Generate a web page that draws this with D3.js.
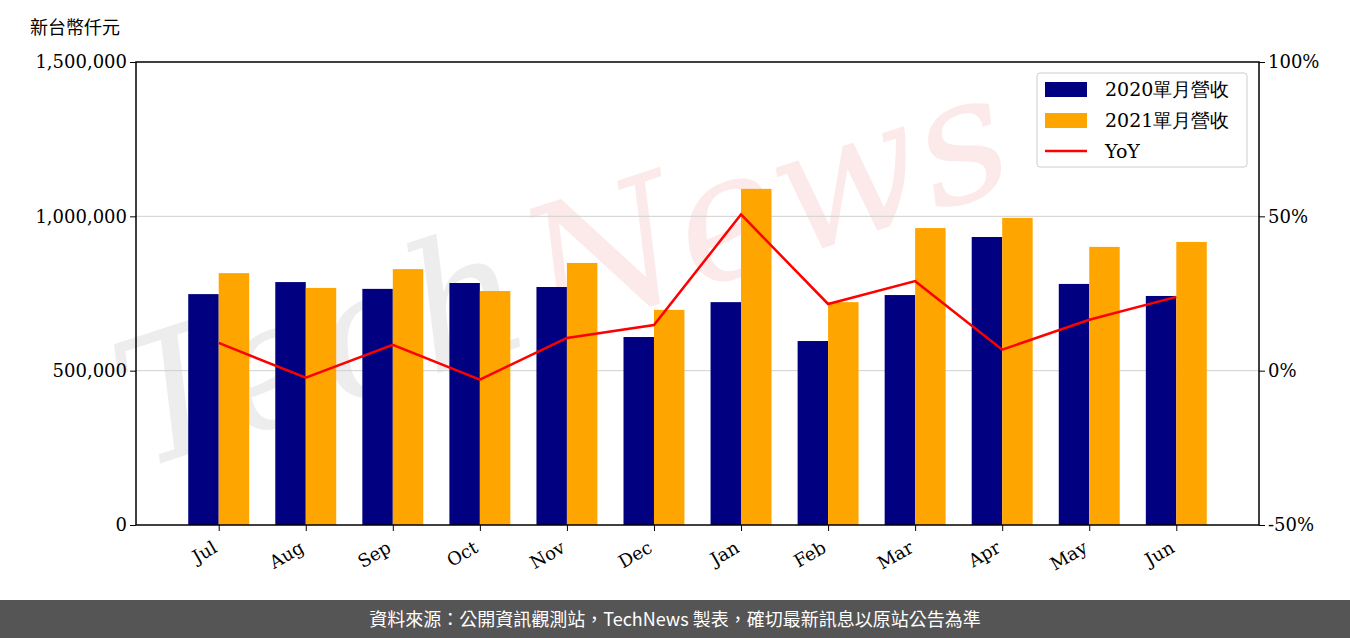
<!DOCTYPE html>
<html>
<head>
<meta charset="UTF-8">
<script src="https://d3js.org/d3.v7.min.js"></script>
<style>
  body { margin: 0; background: #fff; }
  text { font-family: "DejaVu Serif", serif; }
  .cjk { font-family: "Noto Sans CJK TC", sans-serif; }
</style>
</head>
<body>
<svg id="chart" width="1350" height="638"></svg>
<script>
const months = ["Jul","Aug","Sep","Oct","Nov","Dec","Jan","Feb","Mar","Apr","May","Jun"];
const rev2020 = [748000,787000,765000,784000,771000,609000,722000,596000,745000,933000,781000,742000];
const rev2021 = [816000,768000,829000,758000,849000,697000,1089000,722000,962000,995000,901000,917000];
const yoy = [9.0,-2.3,8.4,-2.9,10.6,14.8,50.6,21.6,29.0,6.8,16.5,23.9];
const leftTicks = [0,500000,1000000,1500000];
const rightTicks = [-50,0,50,100];

const svg = d3.select("#chart");
const plotL = 136, plotR = 1259, plotT = 62, plotB = 525;

const x = d3.scaleLinear().domain([-0.95, 11.95]).range([plotL, plotR]);
const y = d3.scaleLinear().domain([0, 1500000]).range([plotB, plotT]);
const y2 = d3.scaleLinear().domain([-50, 100]).range([plotB, plotT]);
const bw = 0.35;

// watermark
const wm = svg.append("g").attr("transform", "translate(140,470) rotate(-18)");
wm.append("text").attr("x", 0).attr("y", 0).attr("font-size", 175)
  .attr("font-family", "DejaVu Sans").attr("font-style", "italic")
  .attr("fill", "#e8e8e8").attr("fill-opacity", 0.8).text("Tech");
wm.append("text").attr("x", 430).attr("y", 0).attr("font-size", 175)
  .attr("font-family", "DejaVu Sans").attr("font-style", "italic")
  .attr("fill", "#fadada").attr("fill-opacity", 0.6).text("News");

// gridlines
svg.append("g").selectAll("line").data(leftTicks.slice(1, 3)).join("line")
  .attr("x1", plotL).attr("x2", plotR).attr("y1", d => y(d)).attr("y2", d => y(d))
  .attr("stroke", "#d0d0d0").attr("stroke-width", 1);

// bars
svg.append("g").selectAll("rect").data(rev2020).join("rect")
  .attr("x", (d, i) => x(i - bw)).attr("width", x(bw) - x(0))
  .attr("y", d => y(d)).attr("height", d => plotB - y(d)).attr("fill", "#000080");
svg.append("g").selectAll("rect").data(rev2021).join("rect")
  .attr("x", (d, i) => x(i)).attr("width", x(bw) - x(0))
  .attr("y", d => y(d)).attr("height", d => plotB - y(d)).attr("fill", "#ffa500");

// yoy line
svg.append("path").datum(yoy)
  .attr("d", d3.line().x((d, i) => x(i)).y(d => y2(d)))
  .attr("fill", "none").attr("stroke", "#ff0000").attr("stroke-width", 2.5);

// frame
svg.append("rect").attr("x", plotL).attr("y", plotT).attr("width", plotR - plotL).attr("height", plotB - plotT)
  .attr("fill", "none").attr("stroke", "#000").attr("stroke-width", 1.5);

// axes
const la = svg.append("g").attr("transform", `translate(${plotL},0)`)
  .call(d3.axisLeft(y).tickValues(leftTicks).tickFormat(d3.format(",")).tickSize(6));
const ra = svg.append("g").attr("transform", `translate(${plotR},0)`)
  .call(d3.axisRight(y2).tickValues(rightTicks).tickFormat(d => d + "%").tickSize(6));
const ba = svg.append("g").attr("transform", `translate(0,${plotB})`)
  .call(d3.axisBottom(x).tickValues(d3.range(12)).tickFormat(i => months[i]).tickSize(6));
[la, ra, ba].forEach(a => {
  a.select(".domain").remove();
  a.selectAll("text").attr("font-family", "DejaVu Serif").attr("font-size", 18).attr("fill", "#000");
});
ba.selectAll("text").attr("text-anchor", "end").attr("x", -14).attr("y", 6).attr("dy", "0.9em")
  .attr("transform", "rotate(-30)");

// y label
svg.append("text").attr("class", "cjk").attr("x", 30).attr("y", 34).attr("font-size", 18).text("新台幣仟元");

// legend
const lg = svg.append("g").attr("transform", "translate(1037,73)");
lg.append("rect").attr("width", 210).attr("height", 94).attr("rx", 3)
  .attr("fill", "#fff").attr("fill-opacity", 0.8).attr("stroke", "#ccc");
const items = [["2020單月營收", "#000080", "bar"], ["2021單月營收", "#ffa500", "bar"], ["YoY", "#ff0000", "line"]];
items.forEach((it, i) => {
  const cy = 16 + i * 31;
  if (it[2] === "bar") lg.append("rect").attr("x", 8).attr("y", cy - 7).attr("width", 42).attr("height", 15).attr("fill", it[1]);
  else lg.append("line").attr("x1", 8).attr("x2", 50).attr("y1", cy).attr("y2", cy).attr("stroke", it[1]).attr("stroke-width", 2.5);
  lg.append("text").attr("x", 68).attr("y", cy + 7).attr("font-size", 19)
    .attr("font-family", "DejaVu Serif, Noto Sans CJK TC").text(it[0]);
});

// footer
svg.append("rect").attr("x", 0).attr("y", 600).attr("width", 1350).attr("height", 38).attr("fill", "#555");
svg.append("text").attr("class", "cjk").attr("x", 675).attr("y", 626).attr("text-anchor", "middle")
  .attr("font-size", 18).attr("fill", "#fff")
  .text("資料來源：公開資訊觀測站，TechNews 製表，確切最新訊息以原站公告為準");
</script>
</body>
</html>
